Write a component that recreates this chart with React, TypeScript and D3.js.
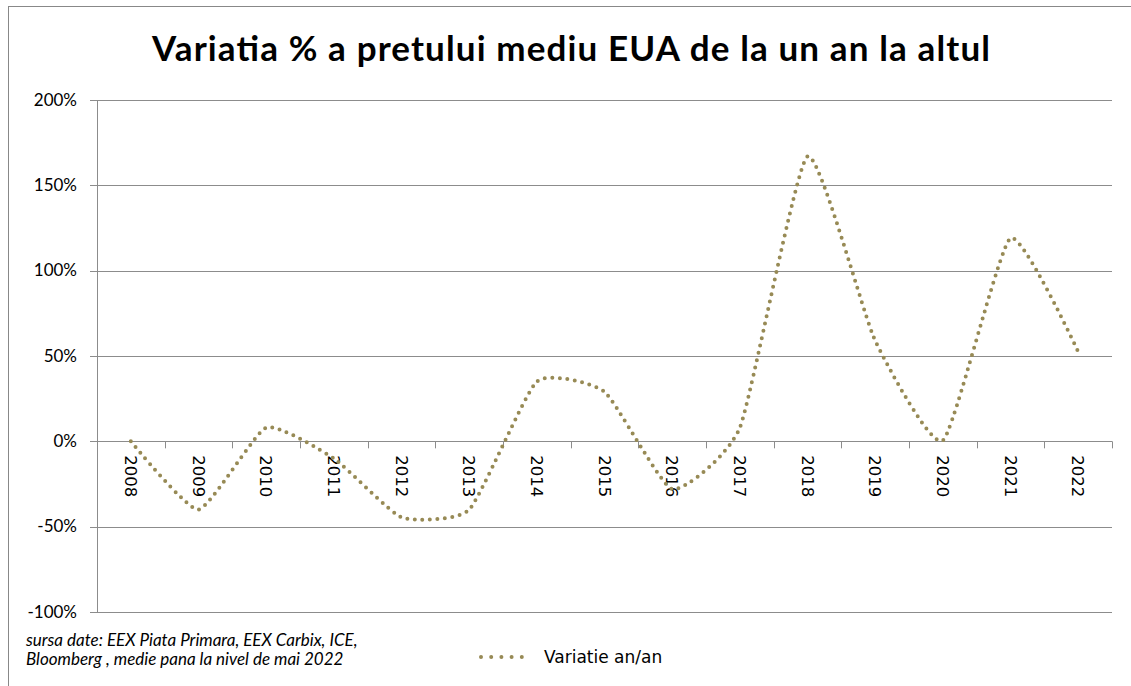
import React from "react";
import * as d3 from "d3";

const years = ["2008","2009","2010","2011","2012","2013","2014","2015","2016","2017","2018","2019","2020","2021","2022"];
const variatie = [0, -40, 8, -10, -44.5, -40, 35, 29, -28, 8, 167, 59, 0.5, 119, 52.5];
const yTicks = [-100, -50, 0, 50, 100, 150, 200];

export default function App() {
  const W = 1131, H = 686;
  const left = 97, right = 1112, top = 100, bottom = 612;
  const x = d3.scaleBand<string>().domain(years).range([left, right]);
  const y = d3.scaleLinear().domain([-100, 200]).range([bottom, top]);
  const line = d3.line<number>()
    .x((_, i) => (x(years[i]) as number) + x.bandwidth() / 2)
    .y((d) => y(d))
    .curve(d3.curveCardinal.tension(0.5));
  const grid = "#8c8c8c";
  const lineColor = "#978a55";
  const boundaries = d3.range(years.length + 1).map((i) => left + i * x.bandwidth());
  return (
    <svg width={W} height={H} style={{ position: "absolute", left: 0, top: 0 }}>
      <rect x={0} y={0} width={W} height={H} fill="#fff" />
      <rect x={8.5} y={6.5} width={1130} height={700} fill="#fff" stroke="#888" strokeWidth={1} />
      <text x={152} y={61} fontFamily="Lato, 'Open Sans', sans-serif" fontWeight="bold" fontSize={35} fill="#000" textLength={838} lengthAdjust="spacing">
        Variatia % a pretului mediu EUA de la un an la altul
      </text>
      {yTicks.map((t) => (
        <g key={t}>
          <line x1={90} x2={right} y1={Math.round(y(t)) + 0.5} y2={Math.round(y(t)) + 0.5} stroke={grid} strokeWidth={1} />
          <text x={77} y={y(t) + 5.5} textAnchor="end" fontFamily="Lato, sans-serif" fontSize={17} fill="#000">
            {t + "%"}
          </text>
        </g>
      ))}
      <line x1={left + 0.5} x2={left + 0.5} y1={top} y2={bottom + 1} stroke={grid} strokeWidth={1} />
      {boundaries.map((b, i) => (
        <line key={i} x1={Math.round(b) + 0.5} x2={Math.round(b) + 0.5} y1={y(0)} y2={y(0) + 7} stroke={grid} strokeWidth={1} />
      ))}
      {years.map((yr) => {
        const cx = (x(yr) as number) + x.bandwidth() / 2;
        return (
          <text key={yr} transform={`translate(${cx - 6},${y(0) + 14}) rotate(90)`} fontFamily="'DejaVu Sans', Verdana, sans-serif" fontSize={16.5} fill="#000">
            {yr}
          </text>
        );
      })}
      <path d={line(variatie) || ""} fill="none" stroke={lineColor} strokeWidth={4} strokeLinecap="round" strokeDasharray="0 7.5" />
      <text fontFamily="Lato, sans-serif" fontStyle="italic" fontSize={17} fill="#000">
        <tspan x={26} y={646}>sursa  date: EEX Piata Primara, EEX Carbix, ICE,</tspan>
        <tspan x={26} y={665}>Bloomberg , medie pana la nivel de mai 2022</tspan>
      </text>
      <line x1={481} x2={532} y1={657} y2={657} stroke={lineColor} strokeWidth={4} strokeLinecap="round" strokeDasharray="0 10.2" />
      <text x={544} y={663} fontFamily="'DejaVu Sans', Verdana, sans-serif" fontSize={17} fill="#000">
        Variatie an/an
      </text>
    </svg>
  );
}
